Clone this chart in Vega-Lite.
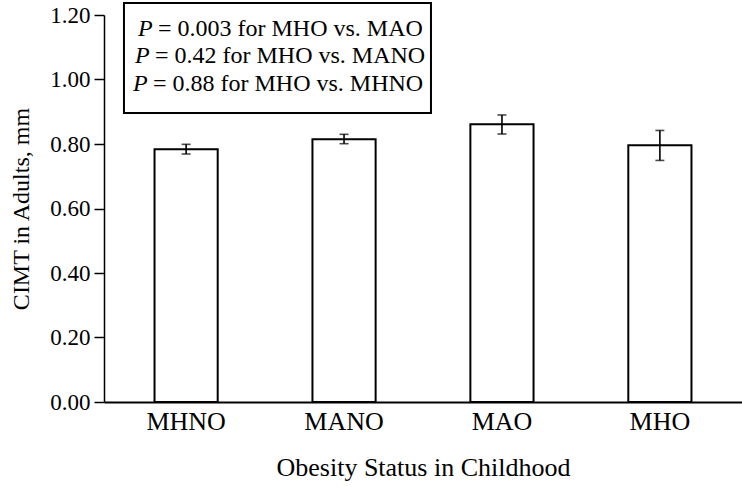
{
  "$schema": "https://vega.github.io/schema/vega-lite/v6.json",
  "width": 638,
  "height": 387,
  "autosize": {"type": "none"},
  "padding": {"left": 104, "top": 15, "right": 0, "bottom": 85},
  "background": "white",
  "config": {
    "view": {"stroke": null},
    "font": "Liberation Serif",
    "text": {"font": "Liberation Serif"},
    "axis": {"labelFont": "Liberation Serif", "titleFont": "Liberation Serif", "labelColor": "black", "titleColor": "black", "titleFontWeight": "normal", "grid": false, "domainColor": "black", "tickColor": "black"}
  },
  "datasets": {
    "cimt": [
      {"status": "MHNO", "mean": 0.784, "lower": 0.769, "upper": 0.799},
      {"status": "MANO", "mean": 0.815, "lower": 0.801, "upper": 0.830},
      {"status": "MAO", "mean": 0.861, "lower": 0.831, "upper": 0.890},
      {"status": "MHO", "mean": 0.796, "lower": 0.749, "upper": 0.842}
    ]
  },
  "layer": [
    {
      "data": {"name": "cimt"},
      "encoding": {
        "x": {
          "field": "status", "type": "nominal", "sort": ["MHNO", "MANO", "MAO", "MHO"],
          "scale": {"paddingInner": 0.6, "paddingOuter": 0.32},
          "axis": {"title": "Obesity Status in Childhood", "labelAngle": 0, "labelFontSize": 26, "labelPadding": 6, "ticks": false, "tickSize": 0, "domainWidth": 2, "titleFontSize": 26, "titlePadding": 20}
        }
      },
      "layer": [
        {
          "mark": {"type": "bar", "fill": "white", "stroke": "black", "strokeWidth": 2},
          "encoding": {
            "y": {
              "field": "mean", "type": "quantitative",
              "scale": {"domain": [0, 1.2], "nice": false},
              "axis": {"title": "CIMT in Adults, mm", "values": [0, 0.2, 0.4, 0.6, 0.8, 1.0, 1.2], "format": ".2f", "labelFontSize": 23, "tickSize": 10, "tickWidth": 1.5, "domainWidth": 1.5, "labelPadding": 4, "titleFontSize": 24, "titlePadding": 16}
            }
          }
        },
        {
          "mark": {"type": "rule", "color": "black", "strokeWidth": 1.6},
          "encoding": {"y": {"field": "lower", "type": "quantitative"}, "y2": {"field": "upper"}}
        },
        {
          "mark": {"type": "tick", "color": "black", "size": 9, "thickness": 1.6, "orient": "horizontal"},
          "encoding": {"y": {"field": "lower", "type": "quantitative"}}
        },
        {
          "mark": {"type": "tick", "color": "black", "size": 9, "thickness": 1.6, "orient": "horizontal"},
          "encoding": {"y": {"field": "upper", "type": "quantitative"}}
        }
      ]
    },
    {
      "data": {"values": [{}]},
      "layer": [
        {
          "mark": {"type": "rect", "fill": "white", "stroke": "black", "strokeWidth": 2, "clip": false},
          "encoding": {
            "x": {"datum": 0.0313, "type": "quantitative", "scale": {"domain": [0, 1], "nice": false, "zero": false}, "axis": null},
            "x2": {"datum": 0.5125},
            "y": {"datum": 1.2372, "type": "quantitative"},
            "y2": {"datum": 0.8961}
          }
        },
        {
          "mark": {"type": "text", "text": "P", "font": "Liberation Serif", "fontStyle": "italic", "fontSize": 24, "align": "left", "baseline": "alphabetic", "color": "black"},
          "encoding": {"x": {"datum": 0.0533, "type": "quantitative"}, "y": {"datum": 1.1349, "type": "quantitative"}}
        },
        {
          "mark": {"type": "text", "text": "= 0.003 for MHO vs. MAO", "font": "Liberation Serif", "fontSize": 24, "align": "left", "baseline": "alphabetic", "color": "black"},
          "encoding": {"x": {"datum": 0.0846, "type": "quantitative"}, "y": {"datum": 1.1349, "type": "quantitative"}}
        },
        {
          "mark": {"type": "text", "text": "P", "font": "Liberation Serif", "fontStyle": "italic", "fontSize": 24, "align": "left", "baseline": "alphabetic", "color": "black"},
          "encoding": {"x": {"datum": 0.0486, "type": "quantitative"}, "y": {"datum": 1.0512, "type": "quantitative"}}
        },
        {
          "mark": {"type": "text", "text": "= 0.42 for MHO vs. MANO", "font": "Liberation Serif", "fontSize": 24, "align": "left", "baseline": "alphabetic", "color": "black"},
          "encoding": {"x": {"datum": 0.0799, "type": "quantitative"}, "y": {"datum": 1.0512, "type": "quantitative"}}
        },
        {
          "mark": {"type": "text", "text": "P", "font": "Liberation Serif", "fontStyle": "italic", "fontSize": 24, "align": "left", "baseline": "alphabetic", "color": "black"},
          "encoding": {"x": {"datum": 0.0455, "type": "quantitative"}, "y": {"datum": 0.9643, "type": "quantitative"}}
        },
        {
          "mark": {"type": "text", "text": "= 0.88 for MHO vs. MHNO", "font": "Liberation Serif", "fontSize": 24, "align": "left", "baseline": "alphabetic", "color": "black"},
          "encoding": {"x": {"datum": 0.0768, "type": "quantitative"}, "y": {"datum": 0.9643, "type": "quantitative"}}
        }
      ]
    }
  ],
  "resolve": {"scale": {"x": "independent"}, "axis": {"x": "independent"}}
}
